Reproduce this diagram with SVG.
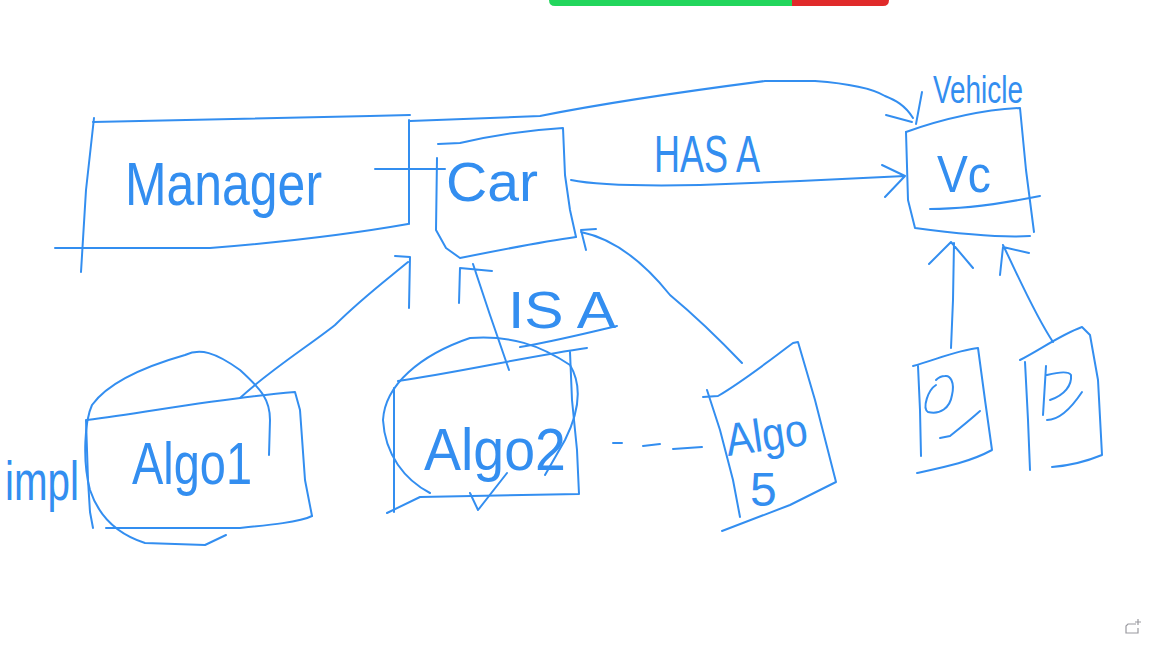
<svg xmlns="http://www.w3.org/2000/svg" width="1154" height="647" viewBox="0 0 1154 647">
<style>
.s{fill:none;stroke:#338ef0;stroke-width:2;stroke-linecap:round;stroke-linejoin:round}
.t{fill:#338ef0;font-family:"Liberation Sans",Arial,sans-serif}
</style>
<rect width="1154" height="647" fill="#ffffff"/>
<g id="toolbar">
<path d="M549,0 H792 V6 H555 Q549,6 549,0 Z" fill="#22d65c"/>
<path d="M792,0 H889 Q889,6 883,6 H792 Z" fill="#e02a2a"/>
</g>
<g id="manager">
<path class="s" d="M93,122 L370,116 L410,115"/>
<path class="s" d="M94,118 L86,190 L81,272"/>
<path class="s" d="M55,248 L210,248 C260,244 340,236 408,224"/>
<path class="s" d="M409,120 L409,224"/>
<text class="t" x="125" y="205" font-size="62" textLength="197" lengthAdjust="spacingAndGlyphs">Manager</text>
</g>
<g id="car">
<path class="s" d="M438,144 L460,143 C490,136 530,130 563,128 L565,175 L570,210 L576,237"/>
<path class="s" d="M437,158 L436,230 L446,248 L460,258 C500,250 540,242 576,237"/>
<text class="t" x="446" y="201" font-size="56" textLength="92" lengthAdjust="spacingAndGlyphs">Car</text>
</g>
<g id="vehicle">
<path class="s" d="M906,132 C940,120 980,110 1020,108 L1026,170 L1034,232"/>
<path class="s" d="M906,132 L908,200 L915,228 C960,234 1000,238 1030,236"/>
<path class="s" d="M930,209 C970,209 1010,202 1040,196"/>
<text class="t" x="933" y="103" font-size="38" textLength="90" lengthAdjust="spacingAndGlyphs">Vehicle</text>
<text class="t" x="937" y="192" font-size="52" textLength="54" lengthAdjust="spacingAndGlyphs">Vc</text>
</g>
<g id="algo1">
<path class="s" d="M87,420 C150,412 220,398 295,392 L300,410 L305,480 L312,516"/>
<path class="s" d="M106,528 L240,528 C270,525 300,522 312,516"/>
<path class="s" d="M86,420 L88,480 L90,512 L93,528"/>
<path class="s" d="M226,535 L205,545 L145,543 C120,535 100,520 90,490 C82,460 85,420 92,405 C110,380 150,365 185,355 C200,348 215,352 240,370 C262,390 270,400 270,420 L269,455"/>
<text class="t" x="132" y="484" font-size="60" textLength="120" lengthAdjust="spacingAndGlyphs">Algo1</text>
<text class="t" x="5" y="500" font-size="55" textLength="74" lengthAdjust="spacingAndGlyphs">impl</text>
</g>
<g id="algo2">
<path class="s" d="M398,381 C460,372 530,356 587,348"/>
<path class="s" d="M570,352 L572,400 L577,450 L579,494 L420,497 L387,513"/>
<path class="s" d="M394,388 L394,512"/>
<path class="s" d="M430,493 C405,480 385,455 383,420 C385,385 420,355 470,338 C510,335 540,345 570,365 C582,385 580,410 565,440 L545,475"/>
<path class="s" d="M470,493 L478,510 L507,473"/>
<text class="t" x="424" y="470" font-size="60" textLength="142" lengthAdjust="spacingAndGlyphs">Algo2</text>
</g>
<g id="algo5">
<path class="s" d="M703,397 L718,396 C745,380 770,360 793,343 L798,342 L815,400 L836,482 L790,505 L722,531"/>
<path class="s" d="M707,390 L720,430 L733,480 L740,517"/>
<text class="t" font-size="46" transform="translate(728,456) rotate(-8)" textLength="82" lengthAdjust="spacingAndGlyphs">Algo</text>
<text class="t" x="750" y="506" font-size="48">5</text>
</g>
<g id="dashes">
<path class="s" d="M613,443 L622,443 M643,446 L660,444 M673,449 L702,447"/>
</g>
<g id="sub1">
<path class="s" d="M913,366 C935,360 958,350 978,348 L985,400 L992,450 C970,462 945,467 917,473"/>
<path class="s" d="M918,366 L920,410 L921,456"/>
<path class="s" d="M936,385 C928,390 922,408 928,412 C940,415 950,408 952,395 C955,382 950,375 945,376 C940,376 937,379 936,380 M940,438 L950,436 C960,428 970,420 980,411"/>
</g>
<g id="sub2">
<path class="s" d="M1020,360 C1040,350 1060,335 1082,327 L1090,335 L1098,380 L1102,455 C1085,462 1065,466 1052,467"/>
<path class="s" d="M1025,362 L1028,420 L1030,470"/>
<path class="s" d="M1047,375 C1055,373 1068,370 1071,375 C1072,385 1065,395 1050,400 M1046,366 L1043,415 M1047,420 C1058,420 1070,410 1082,392"/>
</g>
<g id="connectors">
<path class="s" d="M375,169 L445,169"/>
<path class="s" d="M410,121 L540,116 C600,104 680,92 765,81 L815,81 C855,84 875,90 885,96 C895,100 905,105 913,118"/>
<path class="s" d="M886,115 L912,122 M922,92 L916,124"/>
<path class="s" d="M571,180 C600,186 650,186 700,185 L800,181 L905,176 M882,165 L905,176 L885,197"/>
<text class="t" x="654" y="172" font-size="52" textLength="106" lengthAdjust="spacingAndGlyphs">HAS A</text>
<path class="s" d="M509,370 L490,315 L473,264 M459,303 L460,268 L492,271"/>
<path class="s" d="M520,347 C560,340 590,332 617,326"/>
<text class="t" x="508" y="328" font-size="52" textLength="108" lengthAdjust="spacingAndGlyphs">IS A</text>
<path class="s" d="M240,398 C270,370 310,345 335,325 C360,300 380,285 408,262 M395,256 L410,257 L409,308"/>
<path class="s" d="M742,363 C720,340 700,320 670,295 C650,270 620,240 581,232 M596,229 L581,230 L586,250"/>
<path class="s" d="M951,348 L953,300 L954,243 M929,264 L951,242 L973,268"/>
<path class="s" d="M1053,342 C1035,315 1020,280 1003,245 M1000,275 L1003,247 L1029,253"/>
</g>
<g id="corner-icon">
<path d="M1136,624 L1128,624 L1126,626 L1126,633 L1138,633 L1138,628 M1138,619 L1138,625 M1135,622 L1141,622" fill="none" stroke="#9a9aa0" stroke-width="1.2"/>
</g>
</svg>
